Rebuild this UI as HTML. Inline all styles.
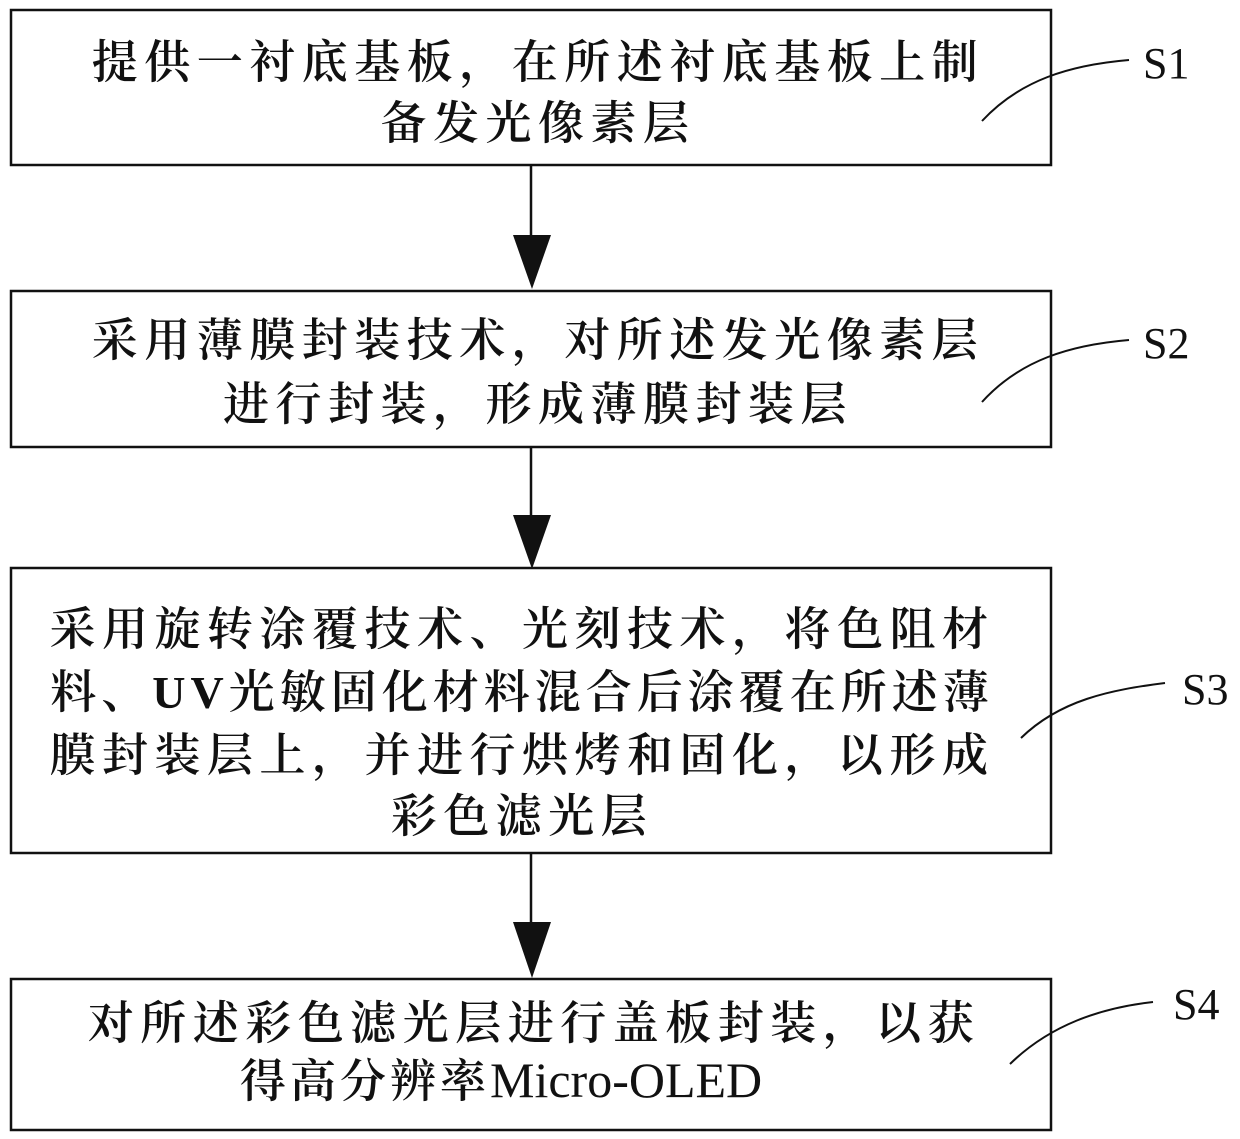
<!DOCTYPE html>
<html><head><meta charset="utf-8"><style>
html,body{margin:0;padding:0;background:#fff;}
svg{display:block;}
.t{font-family:"Liberation Serif","Noto Serif CJK SC",serif;font-size:46px;font-weight:600;fill:#111;text-anchor:middle;}
.l{font-family:"Liberation Serif",serif;font-size:44px;fill:#111;}
</style></head><body>
<svg width="1240" height="1139" viewBox="0 0 1240 1139" xmlns="http://www.w3.org/2000/svg">
<g fill="none" stroke="#111" stroke-width="2.5">
<rect x="11" y="10" width="1040" height="155"/>
<rect x="11" y="291" width="1040" height="156"/>
<rect x="11" y="568" width="1040" height="285"/>
<rect x="11" y="979" width="1040" height="151"/>
<line x1="531" y1="165" x2="531" y2="240"/>
<line x1="531" y1="447" x2="531" y2="520"/>
<line x1="531" y1="853" x2="531" y2="925"/>
<path d="M982 121 C1020 80,1070 65,1129 60" stroke-width="2"/>
<path d="M982 402 C1020 360,1070 345,1129 340" stroke-width="2"/>
<path d="M1021 738 C1060 700,1110 690,1165 683" stroke-width="2"/>
<path d="M1010 1064 C1050 1025,1100 1008,1153 1002" stroke-width="2"/>
</g>
<g fill="#111">
<polygon points="513,235 551,235 532,289"/>
<polygon points="513,515 551,515 532,569"/>
<polygon points="513,922 551,922 532,978"/>
</g>
<text class="t" x="538" y="78" letter-spacing="6.5">提供一衬底基板，在所述衬底基板上制</text>
<text class="t" x="538" y="139" letter-spacing="6.5">备发光像素层</text>
<text class="t" x="538" y="356" letter-spacing="6.5">采用薄膜封装技术，对所述发光像素层</text>
<text class="t" x="538" y="420" letter-spacing="6.5">进行封装，形成薄膜封装层</text>
<text class="t" x="522" y="645" letter-spacing="6.5">采用旋转涂覆技术、光刻技术，将色阻材</text>
<text class="t" x="522" y="708" letter-spacing="5">料、UV光敏固化材料混合后涂覆在所述薄</text>
<text class="t" x="522" y="771" letter-spacing="6.5">膜封装层上，并进行烘烤和固化，以形成</text>
<text class="t" x="522" y="832" letter-spacing="6.5">彩色滤光层</text>
<text class="t" x="534" y="1039" letter-spacing="6.5">对所述彩色滤光层进行盖板封装，以获</text>
<text class="t" x="240" y="1097" style="text-anchor:start" letter-spacing="4">得高分辨率<tspan letter-spacing="0" font-weight="normal" font-size="50">Micro-OLED</tspan></text>
<text class="l" x="1143" y="78">S1</text>
<text class="l" x="1143" y="358">S2</text>
<text class="l" x="1182" y="704">S3</text>
<text class="l" x="1173" y="1019">S4</text>
</svg>
</body></html>
